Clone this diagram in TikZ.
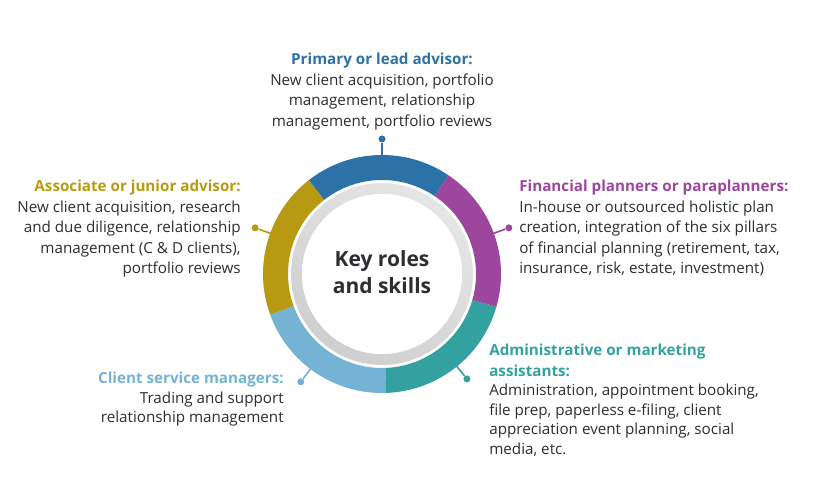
\documentclass[tikz,border=0pt]{standalone}
\usepackage{fontspec}
\setmainfont{Open Sans}
\usetikzlibrary{calc}
\usepackage{xcolor}
\definecolor{roleblue}{RGB}{45,114,166}
\definecolor{rolegold}{RGB}{184,154,18}
\definecolor{rolesky}{RGB}{116,179,211}
\definecolor{roleteal}{RGB}{51,161,159}
\definecolor{rolepurple}{RGB}{157,70,158}
\definecolor{bodytext}{RGB}{45,45,50}
\newcommand{\rolehead}[2]{{\color{#1}\fontsize{15.2}{20.5}\selectfont\bfseries #2}}

\begin{document}
\begin{tikzpicture}[x=1pt,y=1pt,semithick,font=\fontsize{15.2}{20.5}\selectfont,text=bodytext]
  \tikzstyle{pinline}=[line width=1.6pt]
  \tikzstyle{pindot}=[circle,inner sep=0pt,minimum size=7pt,draw=none]
  \tikzstyle{role}=[inner sep=0pt]

  \useasboundingbox (0,0) rectangle (826,481);
  \coordinate (O) at (382,207);

  % coloured ring, five equal parts
  \foreach \a/\col in {56/roleblue,128/rolegold,200/rolesky,272/roleteal,344/rolepurple}
    \fill[\col,shift={(O)}] (\a:119) arc[start angle=\a,end angle=\a+72,radius=119]
      -- (\a+72:94) arc[start angle=\a+72,end angle=\a,radius=94] -- cycle;

  % grey inner ring
  \shade[even odd rule,top color=gray!20,bottom color=gray!38,shading angle=-35]
    (O) circle (91) (O) circle (80);
  \fill[white] (O) circle (80);

  \node[font=\fontsize{21}{27}\selectfont\bfseries,align=center] (K) at ($(O)+(0,2)$) {Key roles\\and skills};

  % pins
  \foreach \a/\col/\n in {90/roleblue/B,160/rolegold/G,233/rolesky/S,309/roleteal/T,20/rolepurple/P} {
    \coordinate (r\n) at ($(O)+(\a:118)$);
    \node[pindot,fill=\col] (p\n) at ($(O)+(\a:135)$) {};
    \draw[pinline,\col] (r\n) -- (p\n);
  }

  % texts
  \node[role,anchor=north,align=center] (LB) at (382,428)
    {\rolehead{roleblue}{Primary or lead advisor:}\\
     New client acquisition, portfolio\\
     management, relationship\\
     management, portfolio reviews};
  \node[role,anchor=north east,align=right] (LG) at (241,301)
    {\rolehead{rolegold}{Associate or junior advisor:}\\
     New client acquisition, research\\
     and due diligence, relationship\\
     management (C \& D clients),\\
     portfolio reviews};
  \node[role,anchor=north west,align=left] (LP) at (519,301)
    {\rolehead{rolepurple}{Financial planners or paraplanners:}\\
     In-house or outsourced holistic plan\\
     creation, integration of the six pillars\\
     of financial planning (retirement, tax,\\
     insurance, risk, estate, investment)};
  \node[role,anchor=north west,align=left] (LT) at (489,137)
    {\rolehead{roleteal}{Administrative or marketing}\\
     \rolehead{roleteal}{assistants:}\\[-1pt]
     Administration, appointment booking,\\[-1pt]
     file prep, paperless e-filing, client\\[-1pt]
     appreciation event planning, social\\[-1pt]
     media, etc.};
  \node[role,anchor=north east,align=right] (LS) at (284,109)
    {\rolehead{rolesky}{Client service managers:}\\[-1pt]
     Trading and support\\[-1pt]
     relationship management};
\end{tikzpicture}
\end{document}
